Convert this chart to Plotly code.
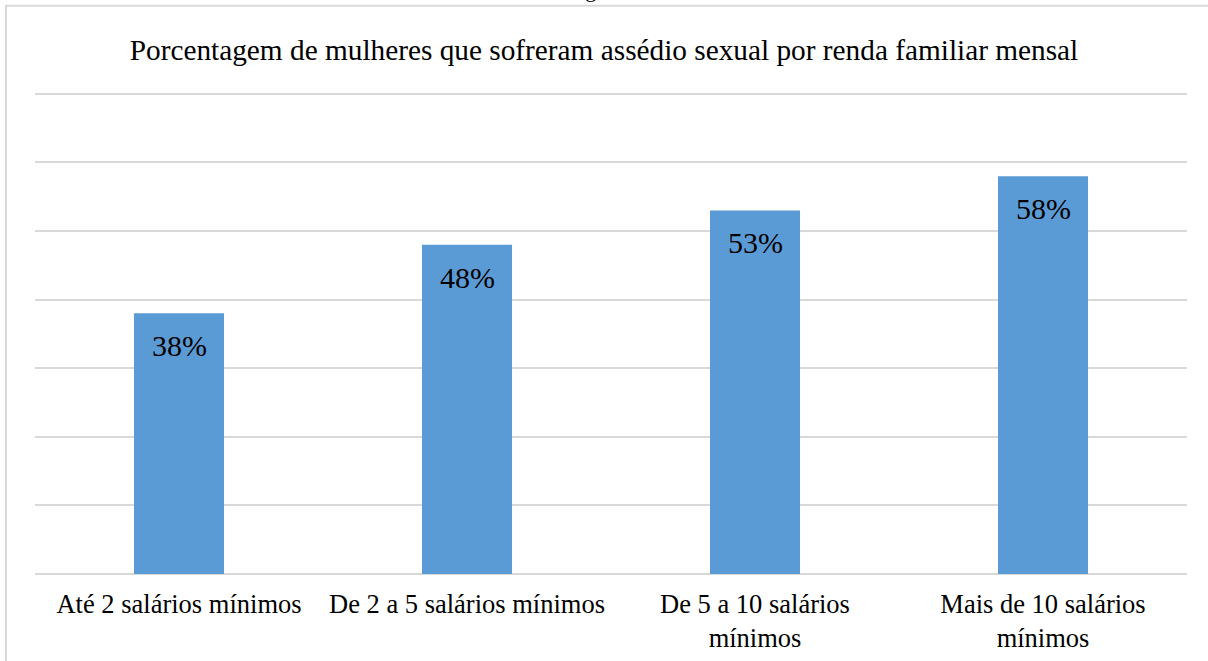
import plotly.graph_objects as go

categories = ["Até 2 salários mínimos", "De 2 a 5 salários mínimos",
              "De 5 a 10 salários<br>mínimos", "Mais de 10 salários<br>mínimos"]
values = [38, 48, 53, 58]
labels = ["38%", "48%", "53%", "58%"]
title = "Porcentagem de mulheres que sofreram assédio sexual por renda familiar mensal"
caption = "Figura 3"

FONT = "Liberation Serif"
PX_PER_UNIT = 480 / 70
YMAX = 71
fig = go.Figure()
fig.add_trace(go.Bar(x=categories, y=values, marker=dict(color="#5B9BD5", line=dict(width=0)),
                     hoverinfo="skip"))

for c, v, t in zip(categories, values, labels):
    fig.add_annotation(x=c, y=v, text=t, showarrow=False, yanchor="top", yshift=-14,
                       font=dict(family=FONT, size=30, color="#000000"))

plot_h = YMAX * PX_PER_UNIT
top = 574 - plot_h

def py(pix):
    return (574 - pix) / plot_h

fig.add_annotation(xref="paper", yref="paper", x=(604 - 35) / 1152, y=py(4),
                   text=caption, showarrow=False, yanchor="bottom",
                   font=dict(family=FONT, size=22, color="#000000"))

fig.add_shape(type="rect", xref="paper", yref="paper",
              x0=(6 - 35) / 1152, y0=-0.5, x1=1.1, y1=py(6),
              line=dict(color="#D9D9D9", width=2), layer="below")

fig.update_layout(
    width=1208, height=661,
    margin=dict(l=35, r=21, t=top, b=87, autoexpand=False),
    paper_bgcolor="white", plot_bgcolor="white",
    bargap=0.6875,
    showlegend=False,
    font=dict(family=FONT),
    title=dict(text=title, x=0.5, xanchor="center", y=1 - 50 / 661, yanchor="middle",
               font=dict(family=FONT, size=29.3, color="#000000")),
    xaxis=dict(showgrid=False, showline=False, ticks="", ticklabelstandoff=11, automargin=False,
               tickfont=dict(family=FONT, size=26.5, color="#000000")),
    yaxis=dict(range=[0, YMAX], dtick=10, showticklabels=False, gridcolor="#D9D9D9", gridwidth=2,
               automargin=False,
               zeroline=True, zerolinecolor="#D9D9D9", zerolinewidth=2, showline=False),
)

fig.write_html("out.html")
